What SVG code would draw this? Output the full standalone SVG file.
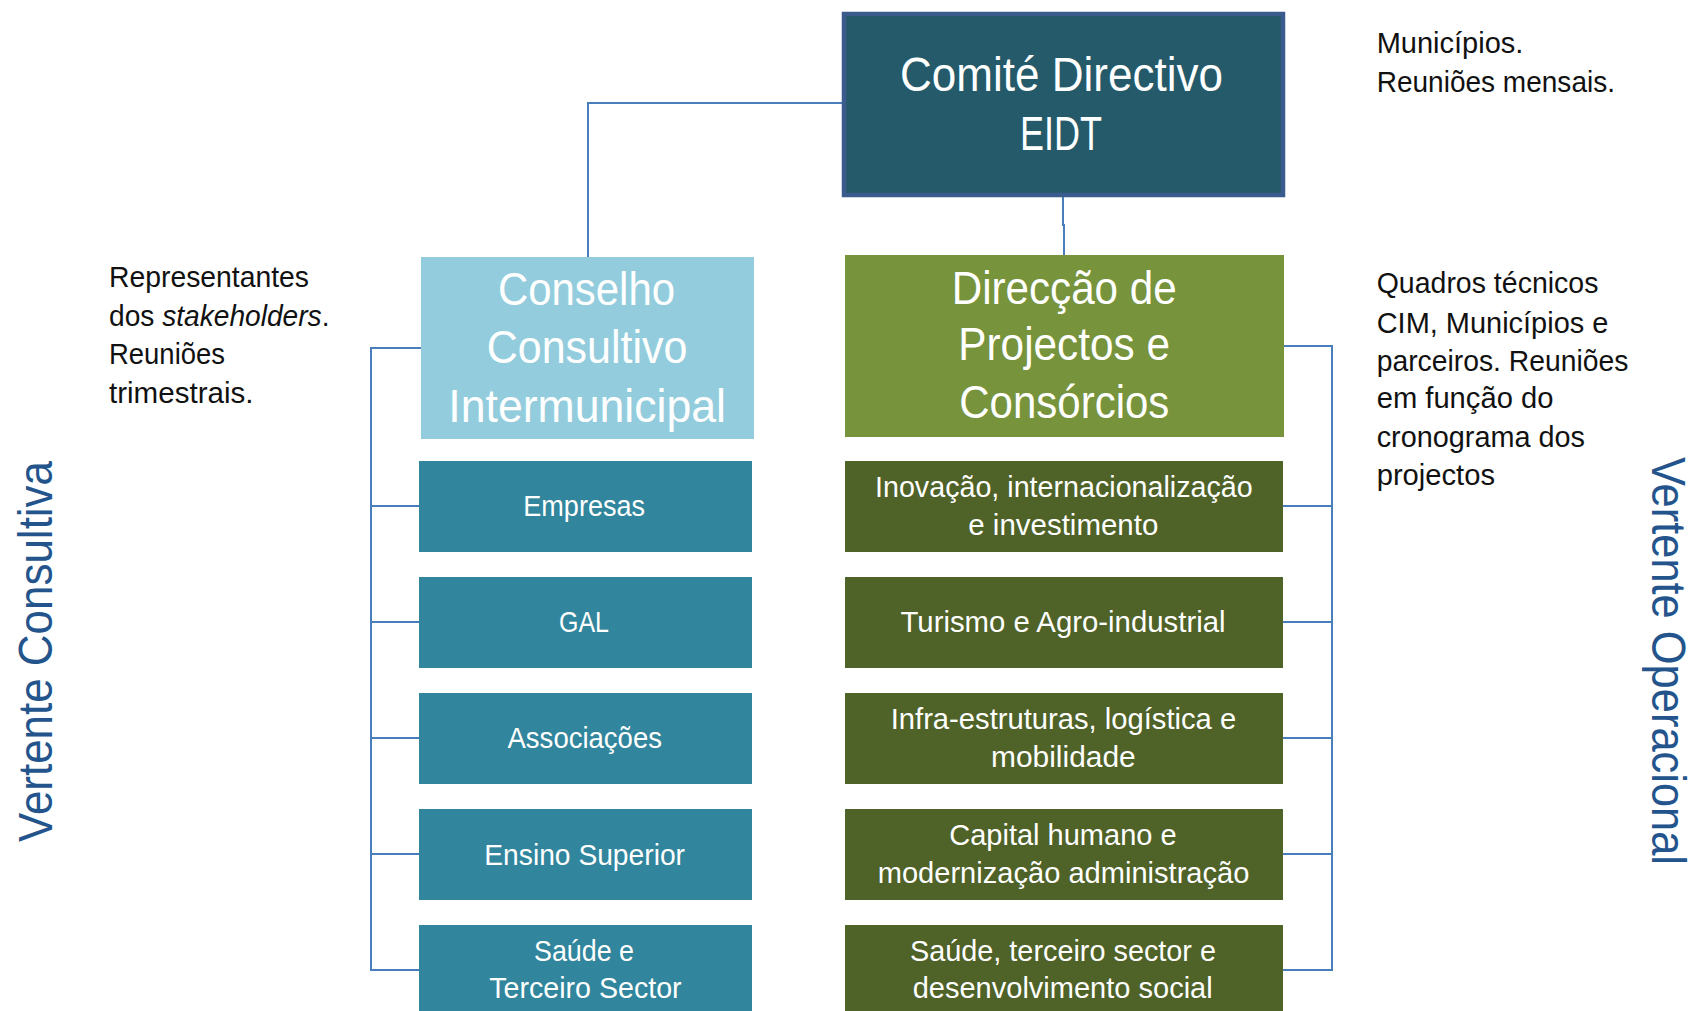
<svg xmlns="http://www.w3.org/2000/svg" width="1693" height="1011" viewBox="0 0 1693 1011">
<style>
text{font-family:"Liberation Sans Narrow","Liberation Sans",Arial,sans-serif;}
.w{fill:#ffffff;}
.big{font-size:47px;}
.mid{font-size:30px;}
.note{fill:#111111;font-size:30px;}
.vert{fill:#24548c;font-size:49px;}
.conn{fill:none;stroke:#4a7ebb;stroke-width:2;}
</style>
<rect width="1693" height="1011" fill="#ffffff"/>
<g id="connectors">
<path class="conn" d="M842 103 H588 V257"/>
<path class="conn" d="M1063 197 V225 H1064 V255"/>
<path class="conn" d="M421 348 H371 V970 H419 M371 506 H419 M371 622 H419 M371 738 H419 M371 854 H419"/>
<path class="conn" d="M1284 346 H1332 V970 H1283 M1332 506 H1283 M1332 622 H1283 M1332 738 H1283 M1332 854 H1283"/>
</g>
<g id="comite">
<rect x="844" y="14" width="439" height="181" fill="#245a69" stroke="#3a5b8c" stroke-width="4.5"/>
<text class="w" x="900" y="91" font-size="48" textLength="323" lengthAdjust="spacingAndGlyphs">Comité Directivo</text>
<text class="w" x="1020" y="150" font-size="48" textLength="82" lengthAdjust="spacingAndGlyphs">EIDT</text>
</g>
<g id="conselho">
<rect x="421" y="257" width="333" height="182" fill="#93cddd"/>
<text class="w big" x="498" y="305" textLength="177" lengthAdjust="spacingAndGlyphs">Conselho</text>
<text class="w big" x="486.7" y="363.3" textLength="200.7" lengthAdjust="spacingAndGlyphs">Consultivo</text>
<text class="w big" x="448.3" y="421.7" textLength="277.7" lengthAdjust="spacingAndGlyphs">Intermunicipal</text>
</g>
<g id="direccao">
<rect x="845" y="255" width="439" height="182" fill="#77933c"/>
<text class="w big" x="951.7" y="304" textLength="225" lengthAdjust="spacingAndGlyphs">Direcção de</text>
<text class="w big" x="958.3" y="360" textLength="211.7" lengthAdjust="spacingAndGlyphs">Projectos e</text>
<text class="w big" x="959.3" y="417.7" textLength="210" lengthAdjust="spacingAndGlyphs">Consórcios</text>
</g>
<g id="empresas">
<rect x="419" y="461" width="333" height="91" fill="#31859c"/>
<text class="w mid" x="523.3" y="516" textLength="121.7" lengthAdjust="spacingAndGlyphs">Empresas</text>
</g>
<g id="gal">
<rect x="419" y="577" width="333" height="91" fill="#31859c"/>
<text class="w mid" x="559" y="632" textLength="50" lengthAdjust="spacingAndGlyphs">GAL</text>
</g>
<g id="associacoes">
<rect x="419" y="693" width="333" height="91" fill="#31859c"/>
<text class="w mid" x="507.5" y="748" textLength="154.5" lengthAdjust="spacingAndGlyphs">Associações</text>
</g>
<g id="ensino">
<rect x="419" y="809" width="333" height="91" fill="#31859c"/>
<text class="w mid" x="484.3" y="865" textLength="200.7" lengthAdjust="spacingAndGlyphs">Ensino Superior</text>
</g>
<g id="saude-left">
<rect x="419" y="925" width="333" height="91" fill="#31859c"/>
<text class="w mid" x="534" y="960.7" textLength="100" lengthAdjust="spacingAndGlyphs">Saúde e</text>
<text class="w mid" x="489.3" y="998.3" textLength="192.3" lengthAdjust="spacingAndGlyphs">Terceiro Sector</text>
</g>
<g id="inovacao">
<rect x="845" y="461" width="438" height="91" fill="#4f6228"/>
<text class="w mid" x="875" y="497.3" textLength="377.7" lengthAdjust="spacingAndGlyphs">Inovação, internacionalização</text>
<text class="w mid" x="968.3" y="535" textLength="190" lengthAdjust="spacingAndGlyphs">e investimento</text>
</g>
<g id="turismo">
<rect x="845" y="577" width="438" height="91" fill="#4f6228"/>
<text class="w mid" x="900.5" y="632" textLength="325" lengthAdjust="spacingAndGlyphs">Turismo e Agro-industrial</text>
</g>
<g id="infra">
<rect x="845" y="693" width="438" height="91" fill="#4f6228"/>
<text class="w mid" x="890.7" y="729.3" textLength="345.5" lengthAdjust="spacingAndGlyphs">Infra-estruturas, logística e</text>
<text class="w mid" x="991" y="767" textLength="144.7" lengthAdjust="spacingAndGlyphs">mobilidade</text>
</g>
<g id="capital">
<rect x="845" y="809" width="438" height="91" fill="#4f6228"/>
<text class="w mid" x="949.3" y="845.3" textLength="227.3" lengthAdjust="spacingAndGlyphs">Capital humano e</text>
<text class="w mid" x="877.7" y="883" textLength="371.7" lengthAdjust="spacingAndGlyphs">modernização administração</text>
</g>
<g id="saude-right">
<rect x="845" y="925" width="438" height="91" fill="#4f6228"/>
<text class="w mid" x="910" y="961" textLength="306" lengthAdjust="spacingAndGlyphs">Saúde, terceiro sector e</text>
<text class="w mid" x="912.7" y="998.3" textLength="300" lengthAdjust="spacingAndGlyphs">desenvolvimento social</text>
</g>
<g id="note-left">
<text class="note" x="109" y="287.3" textLength="200" lengthAdjust="spacingAndGlyphs">Representantes</text>
<text class="note" x="109" y="325.5" textLength="220.5" lengthAdjust="spacingAndGlyphs">dos <tspan font-style="italic">stakeholders</tspan>.</text>
<text class="note" x="109" y="364.2" textLength="116" lengthAdjust="spacingAndGlyphs">Reuniões</text>
<text class="note" x="109" y="403" textLength="144.5" lengthAdjust="spacingAndGlyphs">trimestrais.</text>
</g>
<g id="note-top">
<text class="note" x="1376.7" y="53.3" textLength="146.7" lengthAdjust="spacingAndGlyphs">Municípios.</text>
<text class="note" x="1376.7" y="91.7" textLength="238.3" lengthAdjust="spacingAndGlyphs">Reuniões mensais.</text>
</g>
<g id="note-right">
<text class="note" x="1376.7" y="293.3" textLength="221.7" lengthAdjust="spacingAndGlyphs">Quadros técnicos</text>
<text class="note" x="1376.7" y="332.7" textLength="231.7" lengthAdjust="spacingAndGlyphs">CIM, Municípios e</text>
<text class="note" x="1376.7" y="370.7" textLength="251.7" lengthAdjust="spacingAndGlyphs">parceiros. Reuniões</text>
<text class="note" x="1376.7" y="408.3" textLength="176.7" lengthAdjust="spacingAndGlyphs">em função do</text>
<text class="note" x="1376.7" y="446.7" textLength="208.3" lengthAdjust="spacingAndGlyphs">cronograma dos</text>
<text class="note" x="1376.7" y="485" textLength="118.3" lengthAdjust="spacingAndGlyphs">projectos</text>
</g>
<g id="vertente-consultiva">
<text class="vert" transform="translate(51.7,842) rotate(-90)" x="0" y="0" textLength="381" lengthAdjust="spacingAndGlyphs">Vertente Consultiva</text>
</g>
<g id="vertente-operacional">
<text class="vert" transform="translate(1652,457) rotate(90)" x="0" y="0" textLength="408" lengthAdjust="spacingAndGlyphs">Vertente Operacional</text>
</g>
</svg>
